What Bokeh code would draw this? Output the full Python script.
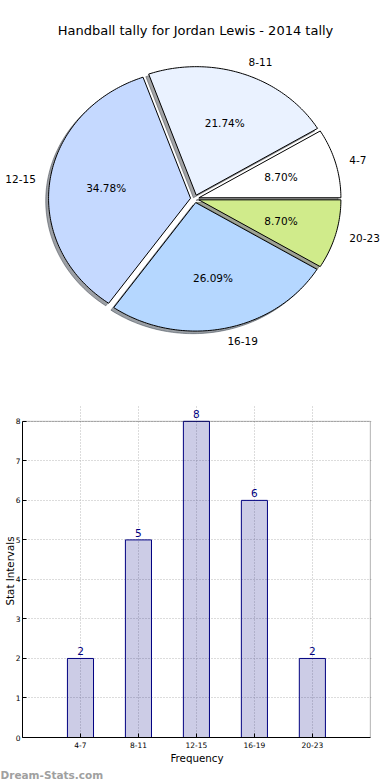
import math
from bokeh.plotting import figure
from bokeh.layouts import column
from bokeh.models import (Range1d, ColumnDataSource, Label, LabelSet, FixedTicker,
                          BoxAnnotation, Title)
from bokeh.core.properties import value
from bokeh.embed import file_html
from bokeh.resources import INLINE

# ---------------- data ----------------
title_text = "Handball tally for Jordan Lewis - 2014 tally"
categories = ["4-7", "8-11", "12-15", "16-19", "20-23"]
counts = [2, 5, 8, 6, 2]
slice_colors = ["#ffffff", "#eaf2ff", "#c5d9ff", "#b5d7ff", "#d0eb8b"]
x_axis_label = "Frequency"
y_axis_label = "Stat Intervals"
watermark = "Dream-Stats.com"

FONT = "DejaVu Sans"
EXPLODE = 0.03
LABEL_DIST = 1.1
PCT_DIST = 0.6
SHADOW_OFF = -0.02


def hex_to_rgb(h):
    h = h.lstrip("#")
    return tuple(int(h[i:i + 2], 16) for i in (0, 2, 4))


def shade(h, f=0.3):
    r, g, b = hex_to_rgb(h)
    return "#%02x%02x%02x" % (int(r * f), int(g * f), int(b * f))


total = float(sum(counts))

# ---------------- pie ----------------
p1 = figure(width=390, height=400, output_backend="svg", toolbar_location=None,
            x_range=Range1d(-1.3683, 1.3782), y_range=Range1d(-1.5696, 1.5432),
            x_axis_type=None, y_axis_type=None, min_border=0)
p1.frame_align = False
p1.grid.visible = False
p1.outline_line_color = None

wx, wy, sx, sy, scol = [], [], [], [], []
lab_x, lab_y, lab_align = [], [], []
pct_x, pct_y, pct_txt = [], [], []
theta = 0.0
for c, col in zip(counts, slice_colors):
    t1 = theta + 360.0 * c / total
    tm = math.radians((theta + t1) / 2.0)
    cx = EXPLODE * math.cos(tm)
    cy = EXPLODE * math.sin(tm)
    n = max(int(t1 - theta) + 2, 4)
    angs = [math.radians(theta + (t1 - theta) * k / (n - 1)) for k in range(n)]
    xs = [cx] + [cx + math.cos(a) for a in angs]
    ys = [cy] + [cy + math.sin(a) for a in angs]
    wx.append(xs)
    wy.append(ys)
    sx.append([v + SHADOW_OFF for v in xs])
    sy.append([v + SHADOW_OFF for v in ys])
    scol.append(shade(col))
    lx = cx + LABEL_DIST * math.cos(tm)
    ly = cy + LABEL_DIST * math.sin(tm)
    lab_x.append(lx)
    lab_y.append(ly)
    lab_align.append("left" if lx > 0 else "right")
    pct_x.append(cx + PCT_DIST * math.cos(tm))
    pct_y.append(cy + PCT_DIST * math.sin(tm))
    pct_txt.append("%.2f%%" % (100.0 * c / total))
    theta = t1

p1.patches(sx, sy, fill_color=scol, fill_alpha=0.5, line_color=scol, line_alpha=0.5)
p1.patches(wx, wy, fill_color=slice_colors, line_color="black", line_width=1)

lab_src = ColumnDataSource(dict(x=lab_x, y=lab_y, text=categories, align=lab_align))
p1.text(x="x", y="y", text="text", text_align="align", text_baseline="middle",
        text_font=value(FONT), text_font_size="10.5px", text_color="black", source=lab_src)
pct_src = ColumnDataSource(dict(x=pct_x, y=pct_y, text=pct_txt))
p1.text(x="x", y="y", text="text", text_align="center", text_baseline="middle",
        text_font=value(FONT), text_font_size="10.5px", text_color="black", source=pct_src)

p1.add_layout(Label(x=0.005, y=1.3097, text=title_text, text_align="center",
                    text_baseline="middle", text_font=FONT, text_font_size="13px",
                    text_color="black"))

# ---------------- bars ----------------
xpos = list(range(1, len(categories) + 1))
ymax = max(counts)
xmax = len(categories) + 1
p2 = figure(width=390, height=380, output_backend="svg", toolbar_location=None,
            x_range=Range1d(0, xmax + 0.02), y_range=Range1d(0, ymax + 0.426),
            min_border_left=0, min_border_right=19, min_border_top=4, min_border_bottom=40)
p2.frame_align = False
p2.outline_line_color = None

src = ColumnDataSource(dict(x=xpos, top=counts, label=[str(c) for c in counts]))
p2.vbar(x="x", top="top", bottom=0, width=0.45, source=src,
        fill_color="navy", fill_alpha=0.2, line_color="navy", line_width=1)

yticks = list(range(0, ymax + 1))
p2.xaxis.ticker = FixedTicker(ticks=xpos)
p2.xaxis.major_label_overrides = {x: c for x, c in zip(xpos, categories)}
p2.yaxis.ticker = FixedTicker(ticks=yticks)
p2.yaxis.bounds = (0, ymax)
p2.xaxis.bounds = (0, xmax)
p2.xgrid.ticker = FixedTicker(ticks=xpos)
p2.xgrid.bounds = (0, ymax)
p2.ygrid.ticker = FixedTicker(ticks=yticks)
p2.ygrid.bounds = (0, xmax)
p2.grid.grid_line_color = "#b8b8b8"
p2.grid.grid_line_dash = "1 2"
p2.grid.grid_line_width = 1

p2.axis.axis_line_color = "black"
p2.axis.axis_line_width = 1
p2.axis.major_tick_in = 4
p2.axis.major_tick_out = 0
p2.axis.major_tick_line_color = "black"
p2.axis.minor_tick_line_color = None
p2.axis.major_label_text_font = FONT
p2.axis.major_label_text_font_size = "7.5px"
p2.axis.major_label_text_color = "black"
p2.axis.axis_label_text_font = FONT
p2.axis.axis_label_text_font_size = "10.3px"
p2.axis.axis_label_text_font_style = "normal"
p2.axis.axis_label_text_color = "black"

p2.xaxis.major_label_standoff = 4
p2.xaxis.axis_label_standoff = 1
p2.yaxis.major_label_standoff = 2
p2.yaxis.axis_label_standoff = -3
p2.xaxis.axis_label = x_axis_label
p2.yaxis.axis_label = y_axis_label

# plot box (axes rectangle) from 0..xmax, 0..ymax
p2.add_layout(BoxAnnotation(left=0, right=xmax, bottom=0, top=ymax,
                            fill_color=None, fill_alpha=0, line_color="black", line_width=1))

p2.add_layout(LabelSet(x="x", y="top", text="label", source=src, y_offset=3,
                       text_align="center", text_baseline="bottom",
                       text_font=value(FONT), text_font_size="10.5px", text_color="navy"))

p2.add_layout(Title(text=watermark, align="left", offset=-22, standoff=0,
                    text_font=FONT, text_font_size="10.5px", text_font_style="bold",
                    text_color="#a0a0a0"), "below")

layout = column(p1, p2)
open("out.html", "w").write(file_html(layout, INLINE))
